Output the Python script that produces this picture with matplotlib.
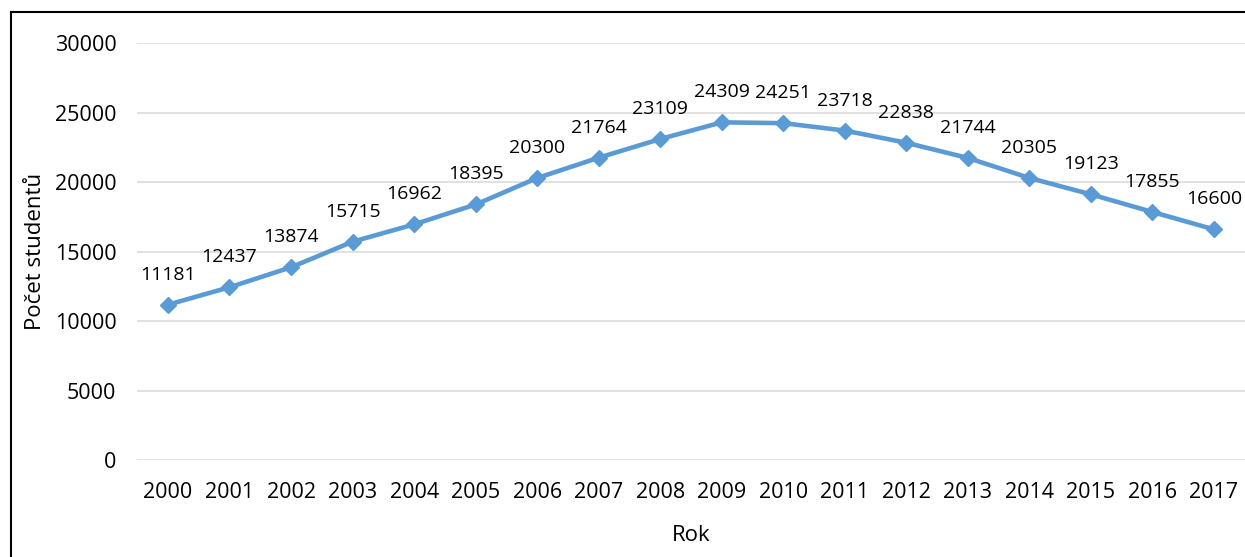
import matplotlib
matplotlib.use("Agg")
import matplotlib.pyplot as plt
from matplotlib.lines import Line2D

years = ["2000", "2001", "2002", "2003", "2004", "2005", "2006", "2007", "2008",
         "2009", "2010", "2011", "2012", "2013", "2014", "2015", "2016", "2017"]
students = [11181, 12437, 13874, 15715, 16962, 18395, 20300, 21764, 23109,
            24309, 24251, 23718, 22838, 21744, 20305, 19123, 17855, 16600]
y_ticks = [0, 5000, 10000, 15000, 20000, 25000, 30000]

plt.rcParams['font.family'] = ['Open Sans', 'DejaVu Sans']

W, H = 1245, 557
fig = plt.figure(figsize=(W / 100, H / 100), dpi=100)
ax = fig.add_axes([137.2 / W, 1 - 460 / H, (1244.8 - 137.2) / W, (460 - 43.3) / H])

x = list(range(len(years)))
color = "#5B9BD5"
ax.plot(x, students, color=color, lw=3.3, marker="D", markersize=8.5,
        markerfacecolor=color, markeredgecolor=color, zorder=3, clip_on=False)

for xi, v in zip(x, students):
    ax.annotate(str(v), (xi, v), xytext=(0, 21.6), textcoords="offset points",
                ha="center", va="center", fontsize=14, color="#000000")

ax.set_xlim(-0.5, len(years) - 0.5)
ax.set_ylim(0, 30000)
ax.set_xticks(x)
ax.set_xticklabels(years)
ax.set_yticks(y_ticks)
ax.set_yticklabels([str(t) for t in y_ticks])
ax.tick_params(axis="both", length=0, labelsize=15.5, colors="#000000")
ax.tick_params(axis="y", pad=15)
ax.tick_params(axis="x", pad=16)
ax.grid(axis="y", color="#D9D9D9", lw=1.1)
ax.set_axisbelow(True)
for s in ax.spines.values():
    s.set_visible(False)

ax.set_ylabel("Počet studentů", fontsize=16)
ax.set_xlabel("Rok", fontsize=16)
ax.yaxis.set_label_coords((46 - 137.2) / (1244.8 - 137.2), 0.5)
ax.xaxis.set_label_coords(0.5, -(525 - 460) / (460 - 43.3))

# outer frame (left and top edges)
fx = 10.5 / W
fy = 1 - 11.5 / H
fig.add_artist(Line2D([fx, fx], [0, fy], color="black", lw=1.5, transform=fig.transFigure))
fig.add_artist(Line2D([fx, 1], [fy, fy], color="black", lw=1.5, transform=fig.transFigure))

fig.savefig("out.png", dpi=100)
